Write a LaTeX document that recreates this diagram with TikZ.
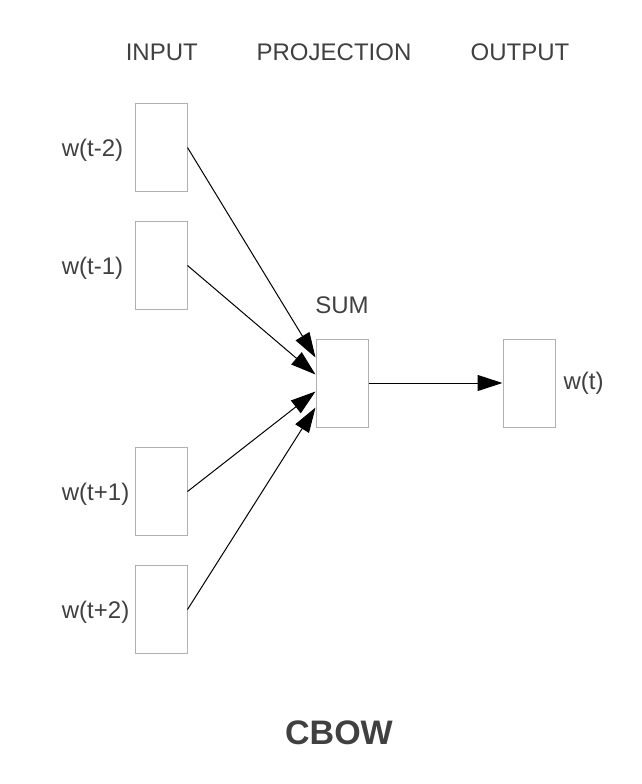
\documentclass[tikz,border=0pt]{standalone}
\usepackage{fontspec}
\setmainfont{Liberation Sans}
\usepackage{tikz}
\usetikzlibrary{arrows.meta,positioning}
\definecolor{txtgray}{HTML}{404040}
\definecolor{boxgray}{HTML}{B0B0B0}

\begin{document}
\begin{tikzpicture}[>={Triangle[length=12.5pt,width=8pt]}, every node/.style={font=\fontsize{12}{14}\selectfont, text=txtgray}, line width=0.5pt]
% styles
\tikzstyle{wordbox}=[rectangle,draw=boxgray,minimum width=26pt,minimum height=44pt,inner sep=0pt]
\tikzstyle{wordlabel}=[inner sep=0pt]
\tikzstyle{header}=[inner sep=0pt]

\useasboundingbox (0pt,0pt) rectangle (321pt,-392pt);

% column headers
\node[header] (hin) at (80.9pt,-26pt) {INPUT};
\node[header] (hproj) at (167pt,-26pt) {PROJECTION};
\node[header] (hout) at (260pt,-26pt) {OUTPUT};

% input words
\node[wordbox] (in1) at (80.5pt,-73.75pt) {};
\node[wordbox,below=14.5pt of in1] (in2) {};
\node[wordbox,below=68.5pt of in2] (in3) {};
\node[wordbox,below=14.5pt of in3] (in4) {};

\coordinate (lx) at (30.7pt,0);
\foreach \i/\w in {1/w(t-2),2/w(t-1),3/w(t+1),4/w(t+2)}
  \node[wordlabel,anchor=west] (l\i) at ([yshift=-1.5pt]lx |- in\i) {\w};

% projection
\node[wordbox] (sum) at (171pt,-191.5pt) {};
\node[header,above=12pt of sum] (lsum) {SUM};

% output
\node[wordbox,right=67pt of sum] (out) {};
\node[wordlabel,right=3.8pt of out] (lout) {w(t)};

% arrow ends on the projection box
\coordinate (s1) at ([yshift=12.75pt]sum.west);
\coordinate (s2) at ([yshift=4.25pt]sum.west);
\coordinate (s3) at ([yshift=-4.25pt]sum.west);
\coordinate (s4) at ([yshift=-12.25pt]sum.west);

% arrows input to sum
\foreach \i in {1,2,3,4}
  \draw[->] (in\i.east) -- (s\i);

% arrow sum to output
\draw[->] (sum.east) -- (out.west);

% title
\node[font=\fontsize{17}{20}\selectfont\bfseries] (title) at (169.5pt,-366.5pt) {CBOW};

\end{tikzpicture}
\end{document}
